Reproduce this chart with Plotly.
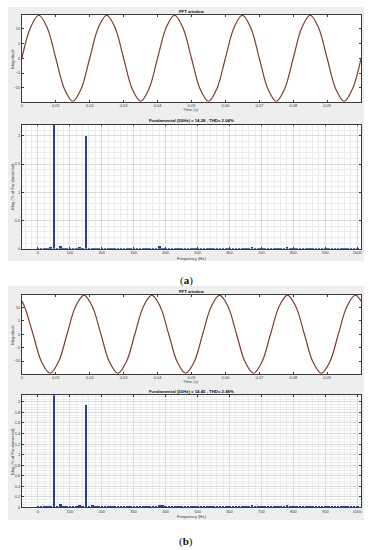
import plotly.graph_objects as go

# ---------------- data ----------------
# time-domain window (a): points (s, magnitude)
time_a = [0, 0.0025, 0.005, 0.0075, 0.01, 0.0125, 0.015, 0.0175,
          0.02, 0.0225, 0.025, 0.0275, 0.03, 0.0325, 0.035, 0.0375,
          0.04, 0.0425, 0.045, 0.0475, 0.05, 0.0525, 0.055, 0.0575,
          0.06, 0.0625, 0.065, 0.0675, 0.07, 0.0725, 0.075, 0.0775,
          0.08, 0.0825, 0.085, 0.0875, 0.09, 0.0925, 0.095, 0.0975, 0.1]
mag_a = [0, 10.3, 14.6, 10.3, 0, -10.3, -14.6, -10.3,
         0, 10.3, 14.6, 10.3, 0, -10.3, -14.6, -10.3,
         0, 10.3, 14.6, 10.3, 0, -10.3, -14.6, -10.3,
         0, 10.3, 14.6, 10.3, 0, -10.3, -14.6, -10.3,
         0, 10.3, 14.6, 10.3, 0, -10.3, -14.6, -10.3, 0]

# time-domain window (b)
time_b = [0, 0.0008, 0.0033, 0.0058, 0.0083, 0.0108, 0.0133, 0.0158,
          0.0183, 0.0208, 0.0233, 0.0258, 0.0283, 0.0308, 0.0333, 0.0358,
          0.0383, 0.0408, 0.0433, 0.0458, 0.0483, 0.0508, 0.0533, 0.0558,
          0.0583, 0.0608, 0.0633, 0.0658, 0.0683, 0.0708, 0.0733, 0.0758,
          0.0783, 0.0808, 0.0833, 0.0858, 0.0883, 0.0908, 0.0933, 0.0958,
          0.0983, 0.1]
mag_b = [12.4, 10.3, 0, -10.3, -14.6, -10.3, 0, 10.3,
         14.6, 10.3, 0, -10.3, -14.6, -10.3, 0, 10.3,
         14.6, 10.3, 0, -10.3, -14.6, -10.3, 0, 10.3,
         14.6, 10.3, 0, -10.3, -14.6, -10.3, 0, 10.3,
         14.6, 10.3, 0, -10.3, -14.6, -10.3, 0, 10.3,
         14.6, 12.4]

# spectrum: frequency bins 0..1000 Hz, step 10 Hz
freq = [0, 10, 20, 30, 40, 50, 60, 70, 80, 90,
        100, 110, 120, 130, 140, 150, 160, 170, 180, 190,
        200, 210, 220, 230, 240, 250, 260, 270, 280, 290,
        300, 310, 320, 330, 340, 350, 360, 370, 380, 390,
        400, 410, 420, 430, 440, 450, 460, 470, 480, 490,
        500, 510, 520, 530, 540, 550, 560, 570, 580, 590,
        600, 610, 620, 630, 640, 650, 660, 670, 680, 690,
        700, 710, 720, 730, 740, 750, 760, 770, 780, 790,
        800, 810, 820, 830, 840, 850, 860, 870, 880, 890,
        900, 910, 920, 930, 940, 950, 960, 970, 980, 990, 1000]

spec_a = [0.02, 0.03, 0.01, 0.02, 0.04, 100, 0.02, 0.05, 0.03, 0.01,
          0.03, 0.03, 0.01, 0.04, 0.02, 2.0, 0.02, 0.03, 0.03, 0.01,
          0.02, 0.01, 0.01, 0.01, 0.02, 0.02, 0.03, 0.03, 0.02, 0.01,
          0.02, 0.01, 0.02, 0.02, 0.02, 0.01, 0.01, 0.02, 0.05, 0.03,
          0.03, 0.02, 0.01, 0.03, 0.02, 0.01, 0.02, 0.01, 0.02, 0.02,
          0.01, 0.02, 0.01, 0.02, 0.03, 0.02, 0.02, 0.01, 0.03, 0.03,
          0.02, 0.03, 0.03, 0.02, 0.01, 0.02, 0.03, 0.04, 0.01, 0.01,
          0.03, 0.02, 0.02, 0.02, 0.02, 0.02, 0.02, 0.03, 0.04, 0.01,
          0.02, 0.02, 0.02, 0.01, 0.01, 0.02, 0.02, 0.01, 0.02, 0.01,
          0.02, 0.01, 0.03, 0.03, 0.02, 0.01, 0.02, 0.02, 0.01, 0.02, 0.01]

spec_b = [0.03, 0.03, 0.01, 0.02, 0.03, 100, 0.03, 0.06, 0.03, 0.01,
          0.03, 0.03, 0.01, 0.04, 0.02, 1.94, 0.03, 0.04, 0.03, 0.01,
          0.02, 0.01, 0.01, 0.01, 0.02, 0.02, 0.03, 0.03, 0.02, 0.01,
          0.02, 0.01, 0.02, 0.02, 0.02, 0.01, 0.01, 0.02, 0.05, 0.04,
          0.03, 0.03, 0.01, 0.03, 0.02, 0.01, 0.02, 0.01, 0.02, 0.02,
          0.01, 0.02, 0.01, 0.02, 0.03, 0.02, 0.02, 0.01, 0.03, 0.03,
          0.02, 0.03, 0.03, 0.02, 0.01, 0.02, 0.03, 0.05, 0.01, 0.01,
          0.03, 0.02, 0.02, 0.02, 0.02, 0.02, 0.02, 0.03, 0.05, 0.01,
          0.02, 0.02, 0.02, 0.01, 0.01, 0.02, 0.02, 0.01, 0.02, 0.01,
          0.02, 0.01, 0.03, 0.03, 0.02, 0.01, 0.02, 0.02, 0.01, 0.02, 0.01]

time_ticks = [0, 0.01, 0.02, 0.03, 0.04, 0.05, 0.06, 0.07, 0.08, 0.09]
time_ticklabels = ["0", "0.01", "0.02", "0.03", "0.04", "0.05", "0.06", "0.07", "0.08", "0.09"]
mag_ticks = [-10, -5, 0, 5, 10]
freq_ticks = [0, 100, 200, 300, 400, 500, 600, 700, 800, 900, 1000]
spec_ticks_a = [0, 0.5, 1, 1.5, 2]
spec_ticks_b = [0, 0.2, 0.4, 0.6, 0.8, 1, 1.2, 1.4, 1.6, 1.8, 2]

title_time = "FFT window"
title_spec_a = "Fundamental (50Hz) = 14.28 , THD= 2.04%"
title_spec_b = "Fundamental (50Hz) = 14.45 , THD= 2.48%"

# ---------------- layout helpers ----------------
W, H = 372, 550
def px(x):
    return x / W
def py(y):
    return 1 - y / H

FONT = "Liberation Sans"
AX_COL = "#3a3a3a"
LINE_COL = "#7d3f2a"
BAR_COL = "#27408b"
GRID = "#dcdcdc"
MINOR = "#ececec"

fig = go.Figure()

fig.add_trace(go.Scatter(x=time_a, y=mag_a, mode="lines", line=dict(color=LINE_COL, width=1.2, shape="spline"),
                         xaxis="x", yaxis="y", showlegend=False))
fig.add_trace(go.Bar(x=freq, y=spec_a, width=8, marker=dict(color=BAR_COL, line=dict(width=0)),
                     xaxis="x2", yaxis="y2", showlegend=False))
fig.add_trace(go.Scatter(x=time_b, y=mag_b, mode="lines", line=dict(color=LINE_COL, width=1.2, shape="spline"),
                         xaxis="x3", yaxis="y3", showlegend=False))
fig.add_trace(go.Bar(x=freq, y=spec_b, width=8, marker=dict(color=BAR_COL, line=dict(width=0)),
                     xaxis="x4", yaxis="y4", showlegend=False))

tickfont = dict(family=FONT, size=4, color=AX_COL)

def time_x(anchor):
    return dict(domain=[px(21), px(362)], anchor=anchor, range=[0, 0.1],
                tickvals=time_ticks, ticktext=time_ticklabels, ticks="inside", ticklen=2,
                tickcolor=AX_COL, showline=True, linecolor=AX_COL, linewidth=0.6, mirror="ticks",
                showgrid=False, zeroline=False, tickfont=tickfont)

def time_y(anchor, dom):
    return dict(domain=dom, anchor=anchor, range=[-14.7, 14.7], tickvals=mag_ticks,
                ticks="inside", ticklen=2, tickcolor=AX_COL, showline=True, linecolor=AX_COL,
                linewidth=0.6, mirror="ticks", showgrid=False, zeroline=False, tickfont=tickfont)

def freq_x(anchor):
    return dict(domain=[px(21), px(362)], anchor=anchor, range=[-50, 1012], tickvals=freq_ticks,
                ticks="inside", ticklen=2, tickcolor=AX_COL, showline=True, linecolor=AX_COL,
                linewidth=0.6, mirror="ticks", showgrid=True, gridcolor=GRID, gridwidth=0.6,
                zeroline=False, tickfont=tickfont,
                minor=dict(dtick=20, tick0=0, showgrid=True, gridcolor=MINOR, gridwidth=0.5, ticks=""))

def spec_y(anchor, dom, rng, tv, minor_dt):
    return dict(domain=dom, anchor=anchor, range=rng, tickvals=tv, ticks="inside", ticklen=2,
                tickcolor=AX_COL, showline=True, linecolor=AX_COL, linewidth=0.6, mirror="ticks",
                showgrid=True, gridcolor=GRID, gridwidth=0.6, zeroline=False, tickfont=tickfont,
                minor=dict(dtick=minor_dt, tick0=0, showgrid=True, gridcolor=MINOR, gridwidth=0.5, ticks=""))

shapes = [
    dict(type="rect", xref="paper", yref="paper", x0=px(7), x1=px(365), y0=py(262), y1=py(7),
         fillcolor="#eeeeee", line=dict(width=0), layer="below"),
    dict(type="rect", xref="paper", yref="paper", x0=px(7), x1=px(365), y0=py(522), y1=py(287),
         fillcolor="#eeeeee", line=dict(width=0), layer="below"),
]

# white plot backgrounds under each axes
for (y0, y1) in [(15, 102), (125, 249.7), (296, 375), (396.7, 509.3)]:
    shapes.append(dict(type="rect", xref="paper", yref="paper", x0=px(21), x1=px(362),
                       y0=py(y1), y1=py(y0), fillcolor="white", line=dict(width=0), layer="below"))

labfont = dict(family=FONT, size=4.2, color=AX_COL)
titfont = dict(family=FONT, size=4.3, color="#111111")

def ann(text, x, y, font, angle=0, xanchor="center", yanchor="middle"):
    return dict(text=text, x=px(x), y=py(y), xref="paper", yref="paper", showarrow=False,
                font=font, textangle=angle, xanchor=xanchor, yanchor=yanchor)

annotations = [
    ann("<b>" + title_time + "</b>", 191.5, 11.5, titfont),
    ann("Time (s)", 191.5, 110, labfont),
    ann("Magnitude", 11.5, 58.5, labfont, angle=-90),
    ann("<b>" + title_spec_a + "</b>", 191.5, 121, titfont),
    ann("Frequency (Hz)", 191.5, 259, labfont),
    ann("Mag (% of Fundamental)", 11.5, 187, labfont, angle=-90),
    ann("(<b>a</b>)", 186, 282, dict(family="Liberation Serif", size=11, color="#111111")),
    ann("<b>" + title_time + "</b>", 191.5, 292.5, titfont),
    ann("Time (s)", 191.5, 383, labfont),
    ann("Magnitude", 11.5, 335.5, labfont, angle=-90),
    ann("<b>" + title_spec_b + "</b>", 191.5, 392.5, titfont),
    ann("Frequency (Hz)", 191.5, 518, labfont),
    ann("Mag (% of Fundamental)", 11.5, 453, labfont, angle=-90),
    ann("(<b>b</b>)", 186, 543, dict(family="Liberation Serif", size=11, color="#111111")),
]

fig.update_layout(
    width=W, height=H, margin=dict(l=0, r=0, t=0, b=0),
    paper_bgcolor="white", plot_bgcolor="rgba(0,0,0,0)",
    bargap=0,
    xaxis=time_x("y"),
    yaxis=time_y("x", [py(102), py(15)]),
    xaxis2=freq_x("y2"),
    yaxis2=spec_y("x2", [py(249.7), py(125)], [0, 2.2], spec_ticks_a, 0.1),
    xaxis3=time_x("y3"),
    yaxis3=time_y("x3", [py(375), py(296)]),
    xaxis4=freq_x("y4"),
    yaxis4=spec_y("x4", [py(509.3), py(396.7)], [0, 2.125], spec_ticks_b, 0.05),
    shapes=shapes,
    annotations=annotations,
)

fig.write_html("out.html", config={"displayModeBar": False},
               post_script="document.body.style.margin='0';document.body.style.padding='0';")
